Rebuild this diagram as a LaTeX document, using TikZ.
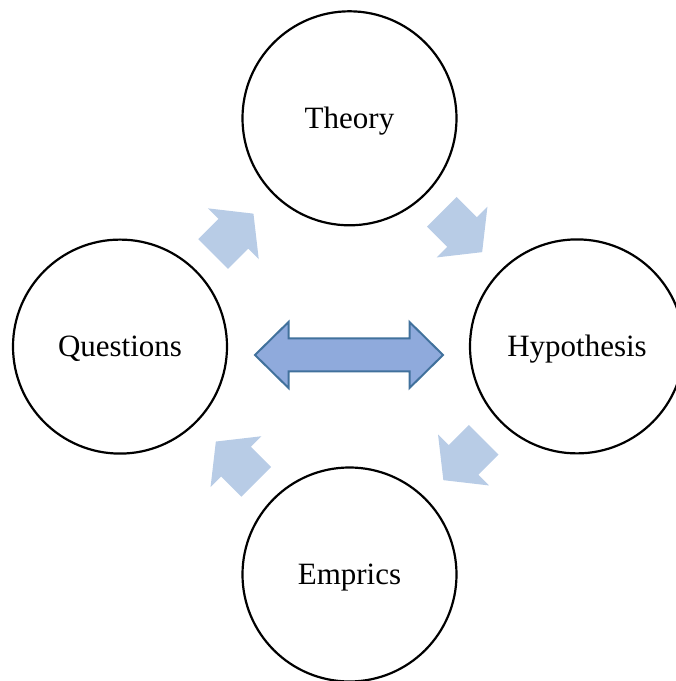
\documentclass[tikz,border=0pt]{standalone}
\usepackage{fontspec}
\setmainfont{Liberation Serif}
\begin{document}
\begin{tikzpicture}[x=1pt,y=1pt,
  stage/.style={circle, draw=black, line width=2.2pt, minimum size=214pt,
    inner sep=0pt, text height=22pt, text depth=2pt,
    font=\fontsize{31}{37}\selectfont},
  cyclefill/.style={fill=cyclelight},
  cyclearrow/.pic={
    \fill[cyclefill] (-28.5,21) -- (0,21) -- (0,36) -- (28.5,0)
      -- (0,-36) -- (0,-21) -- (-28.5,-21) -- cycle;
  }]
\definecolor{cyclelight}{HTML}{B8CCE6}
\definecolor{linkfill}{HTML}{8FAADC}
\definecolor{linkedge}{HTML}{41719C}
\useasboundingbox (0,0) rectangle (676,681);

% the four stages of the cycle
\node[stage] (theory)     at (349.5,562.7) {Theory};
\node[stage] (questions)  at (120,334.4)   {Questions};
\node[stage] (hypothesis) at (577,334.6)   {Hypothesis};
\node[stage] (emprics)    at (349.5,106.5) {Emprics};

% block arrows running round the cycle
\pic[rotate=45]   at (233.3,447.2) {cyclearrow};
\pic[rotate=-45]  at (462,449)     {cyclearrow};
\pic[rotate=-135] at (463.5,221)   {cyclearrow};
\pic[rotate=135]  at (236,219.3)   {cyclearrow};

% two-way link between questions and hypothesis
\draw[fill=linkfill, draw=linkedge, line width=2pt, line join=miter]
  (255,326) -- (288.5,359) -- (288.5,342.5) -- (409.5,342.5) -- (409.5,359)
  -- (443,326) -- (409.5,293) -- (409.5,309.5) -- (288.5,309.5) -- (288.5,293)
  -- cycle;
\end{tikzpicture}
\end{document}
